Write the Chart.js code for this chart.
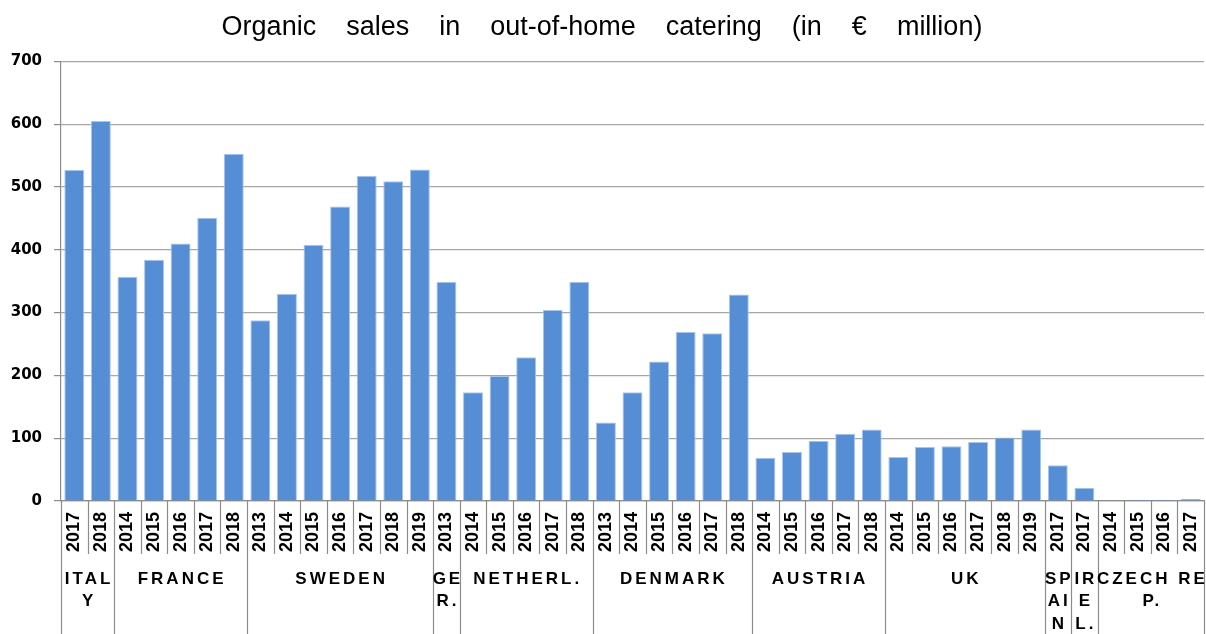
<!DOCTYPE html>
<html>
<head>
<meta charset="utf-8">
<script src="https://cdn.jsdelivr.net/npm/chart.js@4.4.0/dist/chart.umd.min.js"></script>
<style>
  html, body { margin: 0; padding: 0; background: #ffffff; }
  #wrap { width: 1206px; height: 634px; position: relative; }
</style>
</head>
<body>
<div id="wrap"><canvas id="c"></canvas></div>
<script>
// ---- data ----
const chartTitle = "Organic    sales    in    out-of-home    catering    (in    \u20ac    million)";
const groupLabels = [["ITAL", "Y"], ["FRANCE"], ["SWEDEN"], ["GE", "R."], ["NETHERL."], ["DENMARK"], ["AUSTRIA"], ["UK"], ["SP", "AI", "N"], ["IR", "E", "L."], ["CZECH RE", "P."]];
const italyYears = ["2017", "2018"];
const italyValues = [527, 605];
const franceYears = ["2014", "2015", "2016", "2017", "2018"];
const franceValues = [357, 384, 410, 451, 553];
const swedenYears = ["2013", "2014", "2015", "2016", "2017", "2018", "2019"];
const swedenValues = [288, 330, 408, 469, 518, 509, 528];
const germanyYears = ["2013"];
const germanyValues = [349];
const netherlandsYears = ["2014", "2015", "2016", "2017", "2018"];
const netherlandsValues = [173, 199, 229, 304, 349];
const denmarkYears = ["2013", "2014", "2015", "2016", "2017", "2018"];
const denmarkValues = [125, 173, 222, 269, 267, 329];
const austriaYears = ["2014", "2015", "2016", "2017", "2018"];
const austriaValues = [69, 78, 96, 107, 114];
const ukYears = ["2014", "2015", "2016", "2017", "2018", "2019"];
const ukValues = [70, 86, 87, 94, 101, 114];
const spainYears = ["2017"];
const spainValues = [57];
const irelandYears = ["2017"];
const irelandValues = [21];
const czechYears = ["2014", "2015", "2016", "2017"];
const czechValues = [0, 2, 2, 3.5];
const yTicksMax = 700;
const yTicksStep = 100;

const groupYears = [italyYears, franceYears, swedenYears, germanyYears, netherlandsYears, denmarkYears, austriaYears, ukYears, spainYears, irelandYears, czechYears];
const groupValues = [italyValues, franceValues, swedenValues, germanyValues, netherlandsValues, denmarkValues, austriaValues, ukValues, spainValues, irelandValues, czechValues];

const labels = [].concat(...groupYears);
const values = [].concat(...groupValues);
const groupSizes = groupYears.map(g => g.length);

const lineColor = '#8c8c8c';

const groupPlugin = {
  id: 'groupAxis',
  afterDraw(chart) {
    const ctx = chart.ctx;
    const xs = chart.scales.x;
    const area = chart.chartArea;
    const n = labels.length;
    const boundary = (i) => {
      if (i <= 0) return xs.getPixelForValue(0) - (xs.getPixelForValue(1) - xs.getPixelForValue(0)) / 2;
      if (i >= n) return xs.getPixelForValue(n - 1) + (xs.getPixelForValue(n - 1) - xs.getPixelForValue(n - 2)) / 2;
      return (xs.getPixelForValue(i - 1) + xs.getPixelForValue(i)) / 2;
    };
    const groupStarts = new Set();
    let acc = 0;
    groupSizes.forEach(s => { groupStarts.add(acc); acc += s; });
    groupStarts.add(acc);
    ctx.save();
    ctx.strokeStyle = lineColor;
    ctx.lineWidth = 1.2;
    for (let i = 0; i <= n; i++) {
      const x = Math.round(boundary(i)) + 0.5;
      const yEnd = groupStarts.has(i) ? chart.height : area.bottom + 53;
      ctx.beginPath();
      ctx.moveTo(x, area.bottom);
      ctx.lineTo(x, yEnd);
      ctx.stroke();
    }
    // group labels
    ctx.fillStyle = '#000000';
    ctx.font = 'bold 17px "Liberation Sans", Arial, sans-serif';
    ctx.textAlign = 'center';
    ctx.textBaseline = 'middle';
    ctx.letterSpacing = '3px';
    acc = 0;
    groupSizes.forEach((s, gi) => {
      const cx = (boundary(acc) + boundary(acc + s)) / 2 + 1.5;
      groupLabels[gi].forEach((line, li) => {
        ctx.fillText(line, cx, area.bottom + 78 + li * 22.5);
      });
      acc += s;
    });
    ctx.restore();
  }
};

new Chart(document.getElementById('c'), {
  type: 'bar',
  data: {
    labels: labels,
    datasets: [{
      data: values,
      backgroundColor: '#558ed5',
      borderColor: '#a9c5ec',
      borderWidth: { top: 1, left: 1, right: 1, bottom: 0 },
      barPercentage: 0.75,
      categoryPercentage: 1.0
    }]
  },
  options: {
    responsive: true,
    maintainAspectRatio: false,
    animation: false,
    layout: { padding: { left: 0, right: 2, top: 0, bottom: 0 } },
    plugins: {
      legend: { display: false },
      tooltip: { enabled: false },
      title: {
        display: true,
        text: chartTitle,
        color: '#000000',
        font: { family: '"Liberation Sans", Arial, sans-serif', size: 27, weight: 'normal' },
        padding: { top: 11, bottom: 18 }
      }
    },
    scales: {
      x: {
        grid: { display: false, drawTicks: false },
        border: { display: true, color: lineColor, width: 1.2 },
        ticks: {
          autoSkip: false,
          minRotation: 90,
          maxRotation: 90,
          padding: 11,
          color: '#000000',
          font: { family: '"Liberation Sans", Arial, sans-serif', size: 18, weight: 'bold' }
        },
        afterFit(scale) { scale.height = 133; scale.paddingLeft = 0; scale.paddingRight = 0; }
      },
      y: {
        min: 0,
        max: yTicksMax,
        ticks: {
          stepSize: yTicksStep,
          padding: 12,
          color: '#000000',
          font: { family: '"DejaVu Sans", sans-serif', size: 15, weight: 'bold' }
        },
        grid: { color: '#a6a6a6', lineWidth: 1.2, tickLength: 7, tickColor: lineColor },
        border: { display: true, color: lineColor, width: 1.2 },
        afterFit(scale) { scale.width = 61; }
      }
    }
  },
  plugins: [groupPlugin]
});
</script>
</body>
</html>
